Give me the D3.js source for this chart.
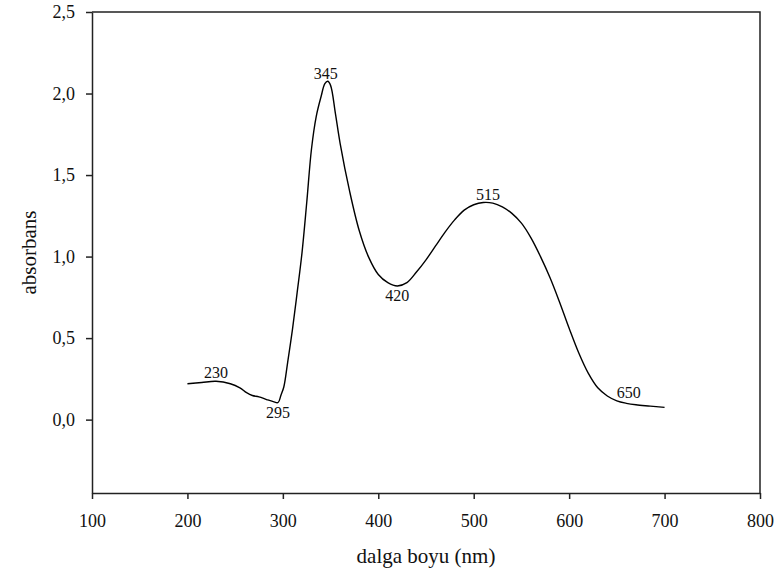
<!DOCTYPE html>
<html>
<head>
<meta charset="utf-8">
<script src="https://cdn.jsdelivr.net/npm/d3@7"></script>
<style>
  body { margin: 0; background: #fff; }
  svg text { font-family: "Times New Roman", "Liberation Serif", serif; }
</style>
</head>
<body>
<div id="chart"></div>
<script>
// Declare constants
const FRAME_WIDTH = 779;
const FRAME_HEIGHT = 578;
const MARGINS = {left: 92, right: 19, top: 12, bottom: 85};

const VIS_WIDTH = FRAME_WIDTH - MARGINS.left - MARGINS.right;
const VIS_HEIGHT = FRAME_HEIGHT - MARGINS.top - MARGINS.bottom;

const SERIF = "'Times New Roman', 'Liberation Serif', serif";

// spectrum
const wavelength = [200, 215, 230, 245, 255, 262, 268, 275, 283, 290, 295, 298, 301, 305, 310, 315, 320, 325, 330, 335,
  340, 344, 347, 350, 355, 360, 370, 380, 390, 400, 410, 420, 430, 440, 450, 460, 470, 480, 490, 500,
  510, 520, 530, 540, 550, 560, 570, 580, 590, 600, 610, 620, 630, 640, 650, 660, 670, 685, 700];
const absorbance = [0.22, 0.228, 0.235, 0.22, 0.195, 0.165, 0.148, 0.14, 0.123, 0.11, 0.105, 0.15, 0.20, 0.35, 0.55, 0.78, 1.02, 1.33, 1.66, 1.86,
  1.98, 2.06, 2.075, 2.05, 1.88, 1.695, 1.40, 1.16, 0.995, 0.89, 0.84, 0.82, 0.84, 0.905, 0.98, 1.065, 1.15, 1.225, 1.285, 1.318,
  1.332, 1.328, 1.305, 1.265, 1.205, 1.115, 1.0, 0.87, 0.72, 0.56, 0.41, 0.285, 0.195, 0.145, 0.115, 0.10, 0.091, 0.083, 0.075];

// peak / valley labels
const peakNames = ["230", "295", "345", "420", "515", "650"];
const peakX = [230, 295, 345, 420, 515, 650];
const peakY = [0.235, 0.105, 2.07, 0.82, 1.33, 0.115];
const peakAbove = [true, false, true, false, true, true];

const xTicks = [100, 200, 300, 400, 500, 600, 700, 800];
const yTicks = [0, 0.5, 1.0, 1.5, 2.0, 2.5];

const svg = d3.select("#chart")
  .append("svg")
    .attr("width", FRAME_WIDTH)
    .attr("height", FRAME_HEIGHT)
    .attr("font-family", SERIF);

const g = svg.append("g")
    .attr("transform", `translate(${MARGINS.left},${MARGINS.top})`);

const x = d3.scaleLinear().domain([100, 800]).range([0, VIS_WIDTH]);
const y = d3.scaleLinear().domain([-0.45, 2.5]).range([VIS_HEIGHT, 0]);

const fmt = d => d3.format(".1f")(d).replace(".", ",");

// frame (top and right)
g.append("path")
  .attr("d", `M0,0H${VIS_WIDTH}V${VIS_HEIGHT}`)
  .attr("fill", "none")
  .attr("stroke", "#222")
  .attr("stroke-width", 1.5);

const xAxis = g.append("g")
  .attr("transform", `translate(0,${VIS_HEIGHT})`)
  .call(d3.axisBottom(x).tickValues(xTicks).tickSize(6).tickPadding(15).tickSizeOuter(0));

const yAxis = g.append("g")
  .call(d3.axisLeft(y).tickValues(yTicks).tickFormat(fmt).tickSize(6).tickPadding(11).tickSizeOuter(0));

[xAxis, yAxis].forEach(a => {
  a.attr("font-family", SERIF).attr("font-size", 18);
  a.selectAll("path, line").attr("stroke", "#222").attr("stroke-width", 1.5);
  a.selectAll("text").attr("fill", "#111");
});

// curve
const line = d3.line()
  .x(d => x(d[0]))
  .y(d => y(d[1]))
  .curve(d3.curveCatmullRom.alpha(0.5));

g.append("path")
  .datum(wavelength.map((w, i) => [w, absorbance[i]]))
  .attr("d", line)
  .attr("fill", "none")
  .attr("stroke", "#000")
  .attr("stroke-width", 1.4);

// labels
g.selectAll(".peak")
  .data(peakNames)
  .join("text")
    .attr("class", "peak")
    .attr("x", (d, i) => x(peakX[i]) + (d === "650" ? 12 : 0))
    .attr("y", (d, i) => y(peakY[i]) + (peakAbove[i] ? -3 : 15))
    .attr("text-anchor", "middle")
    .attr("fill", "#111")
    .attr("font-size", 16)
    .text(d => d);

// axis titles
svg.append("text")
  .attr("x", MARGINS.left + VIS_WIDTH / 2)
  .attr("y", 563)
  .attr("text-anchor", "middle")
  .attr("fill", "#111")
  .attr("font-size", 21)
  .text("dalga boyu (nm)");

svg.append("text")
  .attr("transform", `translate(36,${MARGINS.top + VIS_HEIGHT / 2}) rotate(-90)`)
  .attr("text-anchor", "middle")
  .attr("fill", "#111")
  .attr("font-size", 21)
  .text("absorbans");
</script>
</body>
</html>
